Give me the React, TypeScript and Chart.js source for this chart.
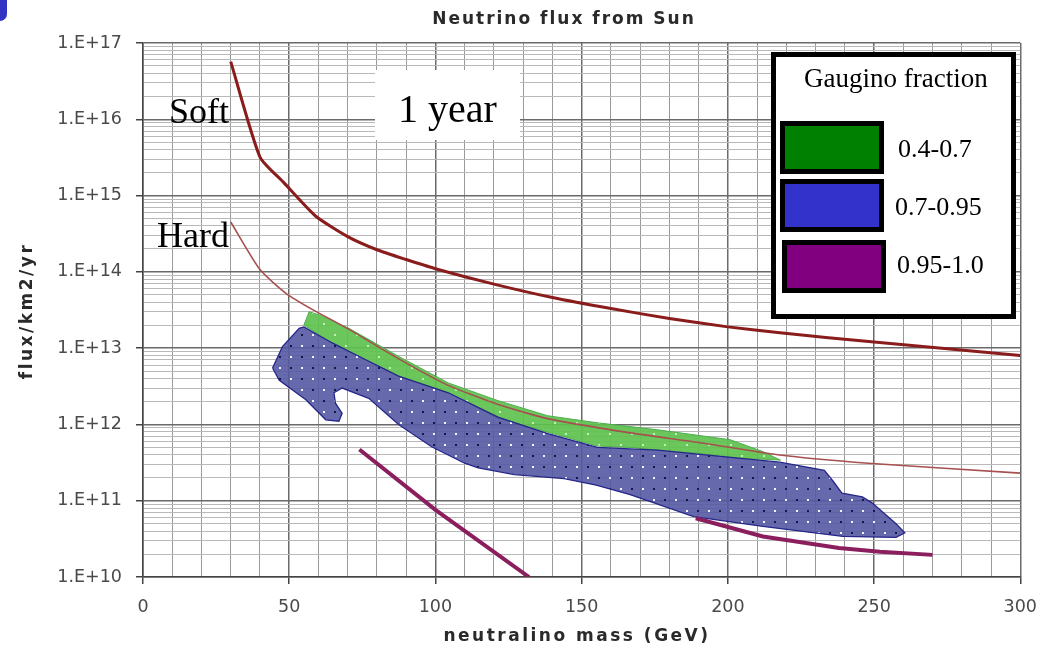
import React, { useEffect, useRef } from 'react';
import { Chart, registerables } from 'chart.js';
Chart.register(...registerables);

// ---- data ----
const chartTitle = 'Neutrino flux from Sun';
const xTitle = 'neutralino mass (GeV)';
const yTitle = 'flux/km2/yr';

const softMass = [30, 40, 48, 59, 70, 80, 90, 100, 120, 140, 160, 180, 200, 217, 250, 300];
const softFlux = [5.7e16, 3.2e15, 1.5e15, 5.4e14, 2.9e14, 1.95e14, 1.45e14, 1.1e14, 6.9e13, 4.6e13, 3.3e13, 2.45e13, 1.9e13, 1.6e13, 1.2e13, 8.0e12];

const hardMass = [30, 40, 49, 58, 70, 87, 104, 121, 138, 166, 190, 217, 248, 300];
const hardFlux = [4.5e14, 1.07e14, 5.2e13, 3.2e13, 1.8e13, 7.4e12, 3.3e12, 1.85e12, 1.2e12, 7.8e11, 5.8e11, 4.0e11, 3.1e11, 2.3e11];

const greenMass = [56.8, 60, 70.4, 87.4, 104.4, 121.4, 138.4, 155.4, 176, 200.8, 212, 218, 212, 204, 189.5, 176, 166.6, 155.4, 144, 121.4, 104.4, 87.4, 76, 64.7, 55, 56.8];
const greenFlux = [3.0e13, 2.75e13, 1.82e13, 7.8e12, 3.5e12, 2.05e12, 1.3e12, 1.05e12, 8.5e11, 6.3e11, 4.4e11, 3.4e11, 3.5e11, 3.6e11, 4.2e11, 4.6e11, 5.0e11, 5.2e11, 6.9e11, 1.2e12, 2.6e12, 4.3e12, 7.1e12, 1.17e13, 2.0e13, 3.0e13];

const blueMass = [44.3, 47.7, 53.4, 55, 64.7, 76, 87.4, 104.4, 121.4, 138.4, 155.4, 176, 204.4, 217.7, 233, 236, 239, 246, 249.4, 257.5, 260.5, 257.5, 239.3, 212, 188.3, 166.6, 155, 144, 127, 114.6, 110, 98.7, 87.4, 77.2, 68.1, 65.3, 65.8, 68.1, 67, 62.5, 55.7, 46.6, 44.3];
const blueFlux = [5.5e12, 1.05e13, 1.82e13, 1.9e13, 1.17e13, 7.1e12, 4.3e12, 2.6e12, 1.25e12, 7.6e11, 5.0e11, 4.6e11, 3.6e11, 3.2e11, 2.5e11, 1.8e11, 1.26e11, 1.12e11, 9.3e10, 5.0e10, 3.8e10, 3.3e10, 3.4e10, 4.6e10, 6.2e10, 1.2e11, 1.6e11, 1.95e11, 2.2e11, 2.7e11, 3.1e11, 5.1e11, 1.0e12, 2.2e12, 3.0e12, 2.6e12, 1.9e12, 1.4e12, 1.1e12, 1.15e12, 2.1e12, 3.8e12, 5.5e12];

const purpleAMass = [74, 100, 132];
const purpleAFlux = [4.7e11, 7.6e10, 1.0e10];
const purpleBMass = [189, 212, 238, 252, 270];
const purpleBFlux = [5.9e10, 3.4e10, 2.4e10, 2.15e10, 1.95e10];

const xMin = 0, xMax = 300, xStep = 10, xLabelEvery = 50;
const yMinExp = 10, yMaxExp = 17;
const mantissas = [1, 2, 3, 4, 5, 6, 7, 8, 9];

const legendTitle = 'Gaugino fraction';
const legendLabels = ['0.4-0.7', '0.7-0.95', '0.95-1.0'];
const legendColors = ['#008000', '#3333cc', '#800080'];

const zip = (xs: number[], ys: number[]) => xs.map((x, i) => ({ x, y: ys[i] }));
const isPow10 = (v: number) => Math.abs(Math.log10(v) - Math.round(Math.log10(v))) < 1e-9;

function makePattern(base: string, dots: [number, number, string][]) {
  const c = document.createElement('canvas');
  c.width = 22; c.height = 22;
  const g = c.getContext('2d')!;
  g.fillStyle = base;
  g.fillRect(0, 0, 22, 22);
  dots.forEach(([x, y, col]) => { g.fillStyle = col; g.fillRect(x, y, 2, 2); });
  return g.createPattern(c, 'repeat')!;
}

const textPlugin = {
  id: 'texts',
  afterDraw(chart: any) {
    const ctx = chart.ctx as CanvasRenderingContext2D;
    ctx.save();
    // titles
    ctx.fillStyle = '#2a2a2a';
    ctx.textAlign = 'center';
    ctx.textBaseline = 'middle';
    ctx.font = 'bold 17px "DejaVu Sans"';
    (ctx as any).letterSpacing = '2px';
    ctx.fillText(chartTitle, 564, 20);
    (ctx as any).letterSpacing = '2.5px';
    ctx.fillText(xTitle, 577, 637);
    ctx.save();
    ctx.translate(28, 311);
    ctx.rotate(-Math.PI / 2);
    ctx.fillText(yTitle, 0, 0);
    ctx.restore();
    (ctx as any).letterSpacing = '0px';

    // annotations
    ctx.textAlign = 'left';
    ctx.textBaseline = 'alphabetic';
    ctx.fillStyle = '#000';
    ctx.font = '36px "Liberation Serif"';
    ctx.fillText('Soft', 169, 123);
    ctx.fillText('Hard', 157, 247);
    ctx.fillStyle = '#fff';
    ctx.fillRect(375, 70, 145, 70);
    ctx.fillStyle = '#000';
    ctx.font = '40px "Liberation Serif"';
    ctx.fillText('1 year', 398, 122);

    // legend box
    ctx.fillStyle = '#fff';
    ctx.fillRect(771, 52, 245, 267);
    ctx.strokeStyle = '#000';
    ctx.lineWidth = 5;
    ctx.strokeRect(773.5, 54.5, 240, 262);
    ctx.fillStyle = '#000';
    ctx.font = '27px "Liberation Serif"';
    ctx.fillText(legendTitle, 804, 87);
    const sw = [[780, 121], [780, 179], [782, 240]];
    const lx = [898, 895, 897];
    const ly = [157, 215, 273];
    legendLabels.forEach((lab, i) => {
      const [sx, sy] = sw[i];
      ctx.fillStyle = '#000';
      ctx.fillRect(sx, sy, 104, 53);
      ctx.fillStyle = legendColors[i];
      ctx.fillRect(sx + 5, sy + 5, 94, 43);
      ctx.fillStyle = '#000';
      ctx.font = '26px "Liberation Serif"';
      ctx.fillText(lab, lx[i], ly[i]);
    });
    ctx.restore();
  },
};

export default function App() {
  const ref = useRef<HTMLCanvasElement>(null);
  useEffect(() => {
    document.body.style.margin = '0';
    const bluePattern = makePattern('rgba(85,90,164,0.9)', [
      [4, 4, '#f4f4ff'], [15, 4, '#16164a'], [4, 15, '#16164a'], [15, 15, '#f4f4ff'],
    ]);
    const greenPattern = makePattern('rgba(94,194,77,0.92)', [
      [4, 4, '#bff0b4'], [15, 15, '#bff0b4'],
    ]);
    const yTicks: number[] = [];
    for (let e = yMinExp; e < yMaxExp; e++) mantissas.forEach((m) => yTicks.push(m * Math.pow(10, e)));
    yTicks.push(Math.pow(10, yMaxExp));

    const tickFont = { family: '"DejaVu Sans"', size: 17.5 };
    const chart = new Chart(ref.current!, {
      type: 'line',
      data: {
        datasets: [
          { label: 'Soft', data: zip(softMass, softFlux), borderColor: '#8a1c1c', borderWidth: 3, pointRadius: 0, fill: false, tension: 0.2 },
          { label: 'Hard', data: zip(hardMass, hardFlux), borderColor: '#a65050', borderWidth: 1.6, pointRadius: 0, fill: false, tension: 0.2 },
          { label: '0.95-1.0 a', data: zip(purpleAMass, purpleAFlux), borderColor: '#8b1f5e', borderWidth: 4, pointRadius: 0, fill: false },
          { label: '0.95-1.0 b', data: zip(purpleBMass, purpleBFlux), borderColor: '#8b1f5e', borderWidth: 4, pointRadius: 0, fill: false },
          { label: '0.7-0.95', data: zip(blueMass, blueFlux), borderColor: '#26268a', borderWidth: 1.3, backgroundColor: bluePattern as any, pointRadius: 0, fill: 'shape' as any },
          { label: '0.4-0.7', data: zip(greenMass, greenFlux), borderColor: '#4fae4f', borderWidth: 1, backgroundColor: greenPattern as any, pointRadius: 0, fill: 'shape' as any },
        ],
      },
      options: {
        animation: false,
        responsive: false,
        devicePixelRatio: 1,
        events: [],
        layout: { padding: { top: 43, right: 28, left: 0, bottom: 0 } },
        plugins: { legend: { display: false }, tooltip: { enabled: false }, title: { display: false } },
        scales: {
          x: {
            type: 'linear', min: xMin, max: xMax,
            afterFit: (s: any) => { s.height = 79; },
            ticks: {
              stepSize: xStep, autoSkip: false, maxRotation: 0, padding: 13, color: '#4a4a4a', font: tickFont,
              callback: (v: any) => (Number(v) % xLabelEvery === 0 ? String(v) : ''),
            },
            grid: {
              color: (c: any) => (c.tick && c.tick.value % xLabelEvery === 0 ? '#6a6a6a' : '#9a9a9a'),
              lineWidth: (c: any) => (c.tick && c.tick.value % xLabelEvery === 0 ? 1.5 : 1),
              tickLength: 7,
              tickColor: (c: any) => (c.tick && c.tick.value % xLabelEvery === 0 ? '#444' : 'rgba(0,0,0,0)'),
            },
            border: { color: '#444', width: 1.5 },
          },
          y: {
            type: 'logarithmic', min: Math.pow(10, yMinExp), max: Math.pow(10, yMaxExp),
            afterFit: (s: any) => { s.width = 143; },
            afterBuildTicks: (s: any) => { s.ticks = yTicks.map((v) => ({ value: v, major: isPow10(v) })); },
            ticks: {
              autoSkip: false, padding: 14, color: '#4a4a4a', font: tickFont,
              callback: (v: any) => (isPow10(Number(v)) ? '1.E+' + Math.round(Math.log10(Number(v))) : ''),
            },
            grid: {
              color: (c: any) => (c.tick && isPow10(c.tick.value) ? '#6a6a6a' : '#b9b9b9'),
              lineWidth: (c: any) => (c.tick && isPow10(c.tick.value) ? 1.5 : 1),
              tickLength: 7,
              tickColor: (c: any) => (c.tick && isPow10(c.tick.value) ? '#444' : 'rgba(0,0,0,0)'),
            },
            border: { color: '#444', width: 1.5 },
          },
        },
      } as any,
      plugins: [textPlugin],
    });
    return () => chart.destroy();
  }, []);
  return (
    <div style={{ position: 'absolute', left: 0, top: 0, width: 1050, height: 656, background: '#fff' }}>
      <canvas ref={ref} width={1050} height={656} style={{ display: 'block', width: 1050, height: 656 }} />
      <div style={{ position: 'absolute', left: 0, top: 0, width: 7, height: 21, background: '#3434c4', borderBottomRightRadius: 7 }} />
    </div>
  );
}
